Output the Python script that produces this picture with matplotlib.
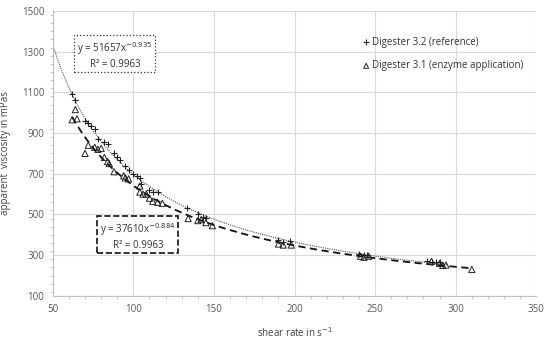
import numpy as np
import matplotlib.pyplot as plt
from matplotlib.ticker import MultipleLocator

plt.rcParams['font.family'] = ['Open Sans', 'DejaVu Sans']

# Digester 3.2 (reference) - plus markers
ref_x = [62, 64, 70, 72, 74, 76, 78, 82, 84, 88, 90, 92, 95, 97, 100, 102, 104, 105,
         110, 112, 115, 133, 140, 143, 145, 190, 193, 197, 240, 243, 245, 282, 285, 288, 290]
ref_y = [1090, 1060, 960, 950, 935, 920, 870, 855, 845, 800, 780, 770, 740, 720, 700, 690, 680, 650,
         620, 610, 610, 530, 500, 490, 485, 375, 365, 370, 305, 300, 300, 270, 265, 265, 265]

# Digester 3.1 (enzyme application) - triangle markers
enz_x = [62, 64, 65, 70, 72, 76, 78, 80, 82, 84, 85, 88, 94, 95, 97, 104, 104, 106, 108,
         110, 112, 115, 118, 134, 140, 142, 145, 149, 190, 193, 198, 241, 243, 246,
         285, 290, 292, 294, 310]
enz_y = [965, 1015, 970, 800, 840, 830, 820, 825, 780, 760, 750, 710, 690, 680, 675, 640, 610, 600, 600,
         580, 565, 560, 555, 480, 470, 475, 460, 445, 355, 350, 350, 295, 290, 295,
         270, 260, 250, 252, 230]

# power trendlines as shown on the chart
ref_a, ref_b = 51657, -0.935
enz_a, enz_b = 37610, -0.884

x_ticks = [50, 100, 150, 200, 250, 300, 350]
y_ticks = [100, 300, 500, 700, 900, 1100, 1300, 1500]

fig = plt.figure(figsize=(5.5, 3.39), dpi=100)
ax = fig.add_axes([0.096, 0.127, 0.879, 0.841])

xs = np.linspace(50, 295, 200)
ax.plot(xs, ref_a * xs ** ref_b, color='#555555', linestyle=(0, (1, 1)), linewidth=0.8, zorder=2)
xe = np.linspace(62, 310, 200)
ax.plot(xe, enz_a * xe ** enz_b, color='#111111', linestyle=(0, (4, 2.5)), linewidth=1.3, zorder=2)

ax.scatter(ref_x, ref_y, marker='+', s=22, color='#222222', linewidths=0.8, zorder=3,
           label='Digester 3.2 (reference)')
ax.scatter(enz_x, enz_y, marker='^', s=20, facecolors='none', edgecolors='#222222',
           linewidths=0.7, zorder=3, label='Digester 3.1 (enzyme application)')

ax.set_xlim(50, 350)
ax.set_ylim(100, 1500)
ax.set_xticks(x_ticks)
ax.set_yticks(y_ticks)
ax.xaxis.set_minor_locator(MultipleLocator(10))
ax.yaxis.set_minor_locator(MultipleLocator(40))
ax.grid(True, which='major', color='#d9d9d9', linewidth=0.8)
ax.set_axisbelow(True)
for side in ['top', 'right']:
    ax.spines[side].set_visible(False)
for side in ['left', 'bottom']:
    ax.spines[side].set_color('#bfbfbf')
ax.tick_params(which='major', length=0, labelsize=7, colors='#595959', pad=6)
ax.tick_params(which='minor', length=2, color='#bfbfbf')

ax.set_xlabel('shear rate in s$^{-1}$', fontsize=7, color='#404040', labelpad=8)
ax.set_ylabel('apparent  viscosity in mPas', fontsize=7, color='#404040', labelpad=8)

ax.text(88.5, 1284, 'y = 51657x$^{-0.935}$\nR² = 0.9963', fontsize=7, ha='center', va='center',
        color='#333333', bbox=dict(boxstyle='square,pad=0.3', facecolor='white',
                                   edgecolor='#333333', linestyle=':', linewidth=0.9))
ax.text(102.8, 395, 'y = 37610x$^{-0.884}$\nR² = 0.9963', fontsize=7, ha='center', va='center',
        color='#333333', bbox=dict(boxstyle='square,pad=0.3', facecolor='white',
                                   edgecolor='#111111', linestyle='--', linewidth=1.2))

ax.legend(loc='upper left', bbox_to_anchor=(0.62, 0.94), frameon=False, fontsize=7,
          handletextpad=0.1, handlelength=1, labelspacing=1.3, labelcolor='#333333',
          markerscale=0.8)

fig.savefig('out.png', dpi=100)
